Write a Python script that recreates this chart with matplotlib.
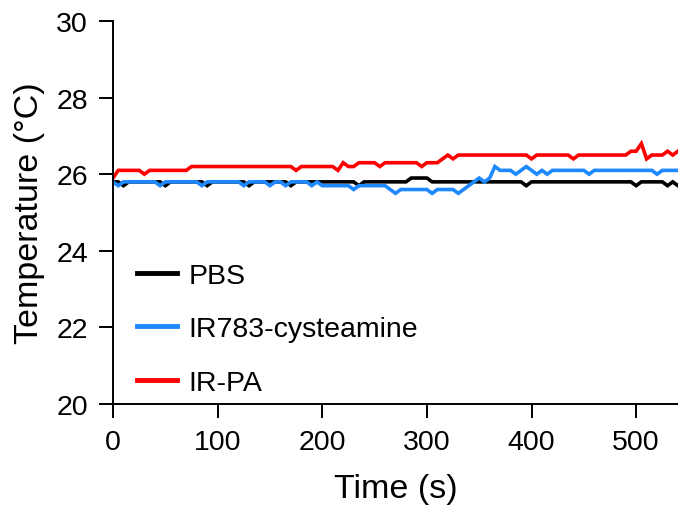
import numpy as np
import matplotlib
matplotlib.use('Agg')
import matplotlib.pyplot as plt

plt.rcParams['font.family'] = ['Liberation Sans', 'DejaVu Sans']

# time in s, one reading every 5 s
time = np.arange(0, 545, 5)

pbs = [25.8, 25.8, 25.7, 25.8, 25.8, 25.8, 25.8, 25.8, 25.8, 25.8,
       25.7, 25.8, 25.8, 25.8, 25.8, 25.8, 25.8, 25.8, 25.7, 25.8,
       25.8, 25.8, 25.8, 25.8, 25.8, 25.8, 25.7, 25.8, 25.8, 25.8,
       25.8, 25.8, 25.8, 25.8, 25.7, 25.8, 25.8, 25.8, 25.8, 25.8,
       25.8, 25.8, 25.8, 25.8, 25.8, 25.8, 25.8, 25.7, 25.8, 25.8,
       25.8, 25.8, 25.8, 25.8, 25.8, 25.8, 25.8, 25.9, 25.9, 25.9,
       25.9, 25.8, 25.8, 25.8, 25.8, 25.8, 25.8, 25.8, 25.8, 25.8,
       25.8, 25.8, 25.8, 25.8, 25.8, 25.8, 25.8, 25.8, 25.8, 25.7,
       25.8, 25.8, 25.8, 25.8, 25.8, 25.8, 25.8, 25.8, 25.8, 25.8,
       25.8, 25.8, 25.8, 25.8, 25.8, 25.8, 25.8, 25.8, 25.8, 25.8,
       25.7, 25.8, 25.8, 25.8, 25.8, 25.8, 25.7, 25.8, 25.7]

ir783 = [25.8, 25.7, 25.8, 25.8, 25.8, 25.8, 25.8, 25.8, 25.8, 25.7,
         25.8, 25.8, 25.8, 25.8, 25.8, 25.8, 25.8, 25.7, 25.8, 25.8,
         25.8, 25.8, 25.8, 25.8, 25.8, 25.7, 25.8, 25.8, 25.8, 25.8,
         25.7, 25.8, 25.8, 25.7, 25.8, 25.8, 25.8, 25.8, 25.7, 25.8,
         25.7, 25.7, 25.7, 25.7, 25.7, 25.7, 25.6, 25.7, 25.7, 25.7,
         25.7, 25.7, 25.7, 25.6, 25.5, 25.6, 25.6, 25.6, 25.6, 25.6,
         25.6, 25.5, 25.6, 25.6, 25.6, 25.6, 25.5, 25.6, 25.7, 25.8,
         25.9, 25.8, 25.9, 26.2, 26.1, 26.1, 26.1, 26.0, 26.1, 26.2,
         26.1, 26.0, 26.1, 26.0, 26.1, 26.1, 26.1, 26.1, 26.1, 26.1,
         26.1, 26.0, 26.1, 26.1, 26.1, 26.1, 26.1, 26.1, 26.1, 26.1,
         26.1, 26.1, 26.1, 26.1, 26.0, 26.1, 26.1, 26.1, 26.1]

irpa = [25.9, 26.1, 26.1, 26.1, 26.1, 26.1, 26.0, 26.1, 26.1, 26.1,
        26.1, 26.1, 26.1, 26.1, 26.1, 26.2, 26.2, 26.2, 26.2, 26.2,
        26.2, 26.2, 26.2, 26.2, 26.2, 26.2, 26.2, 26.2, 26.2, 26.2,
        26.2, 26.2, 26.2, 26.2, 26.2, 26.1, 26.2, 26.2, 26.2, 26.2,
        26.2, 26.2, 26.2, 26.1, 26.3, 26.2, 26.2, 26.3, 26.3, 26.3,
        26.3, 26.2, 26.3, 26.3, 26.3, 26.3, 26.3, 26.3, 26.3, 26.2,
        26.3, 26.3, 26.3, 26.4, 26.5, 26.4, 26.5, 26.5, 26.5, 26.5,
        26.5, 26.5, 26.5, 26.5, 26.5, 26.5, 26.5, 26.5, 26.5, 26.5,
        26.4, 26.5, 26.5, 26.5, 26.5, 26.5, 26.5, 26.5, 26.4, 26.5,
        26.5, 26.5, 26.5, 26.5, 26.5, 26.5, 26.5, 26.5, 26.5, 26.6,
        26.6, 26.8, 26.4, 26.5, 26.5, 26.5, 26.6, 26.5, 26.6]

labels = ['PBS', 'IR783-cysteamine', 'IR-PA']
colors = ['#000000', '#1E88FF', '#FF0000']

fig = plt.figure(figsize=(6.78, 5.10), dpi=100)
ax = fig.add_axes([113/678, 105/510, 565/678, 383/510])

for y, lab, c in zip([pbs, ir783, irpa], labels, colors):
    ax.plot(time, y, color=c, lw=2.6, label=lab, solid_joinstyle='miter')

ax.set_xlim(0, 540)
ax.set_ylim(20, 30)
ax.set_xticks([0, 100, 200, 300, 400, 500])
ax.set_yticks([20, 22, 24, 26, 28, 30])
ax.tick_params(labelsize=20.5, length=10, width=1.4, direction='out', pad=8)
for s in ['top', 'right']:
    ax.spines[s].set_visible(False)
for s in ['left', 'bottom']:
    ax.spines[s].set_linewidth(1.4)

ax.set_xlabel('Time (s)', fontsize=24.5, labelpad=13)
ax.set_ylabel('Temperature (°C)', fontsize=24.5, labelpad=8)

leg = ax.legend(loc='lower left', bbox_to_anchor=(0.023, -0.008), frameon=False,
                fontsize=20.5, handlelength=1.4, handletextpad=0.4,
                labelspacing=0.96, borderaxespad=0.0)
for line in leg.get_lines():
    line.set_linewidth(3.5)

fig.savefig('out.png', dpi=100)
